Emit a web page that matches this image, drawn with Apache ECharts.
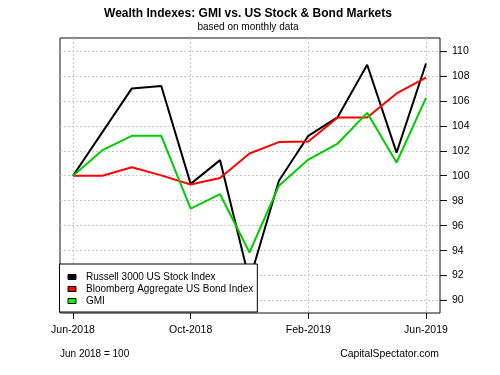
<!DOCTYPE html>
<html>
<head>
<meta charset="utf-8">
<script src="https://cdn.jsdelivr.net/npm/echarts@6/dist/echarts.min.js"></script>
<style>
  html, body { margin: 0; padding: 0; background: #fff; }
  #chart { width: 500px; height: 375px; }
</style>
</head>
<body>
<div id="chart"></div>
<script>
var chart = echarts.init(document.getElementById('chart'));

// monthly data, Jun 2018 = 100
var months = ['Jun-2018', 'Jul-2018', 'Aug-2018', 'Sep-2018', 'Oct-2018', 'Nov-2018', 'Dec-2018',
              'Jan-2019', 'Feb-2019', 'Mar-2019', 'Apr-2019', 'May-2019', 'Jun-2019'];
var russell = [100, 103.5, 107.0, 107.2, 99.35, 101.25, 91.6, 99.6, 103.2, 104.7, 108.9, 101.85, 109.0];
var bond = [100, 100.0, 100.68, 100.03, 99.3, 99.82, 101.78, 102.7, 102.75, 104.67, 104.67, 106.6, 107.87];
var gmi = [100, 102.05, 103.2, 103.2, 97.37, 98.52, 93.85, 99.2, 101.3, 102.58, 105.04, 101.06, 106.24];
var yTicks = [90, 92, 94, 96, 98, 100, 102, 104, 106, 108, 110];
var names = ['Russell 3000 US Stock Index', 'Bloomberg Aggregate US Bond Index', 'GMI'];

var yMin = 89, yMax = 111.04;
var font = 'Liberation Sans, Arial, Helvetica, sans-serif';
var gridLine = { show: true, lineStyle: { color: '#c8c8c8', type: [2, 2], width: 1 } };

function pairs(arr) {
    return arr.map(function (v, i) { return [i, v]; });
}

var option = {
    animation: false,
    textStyle: { fontFamily: font },
    graphic: [
        { type: 'text', x: 248, y: 14, style: { text: 'Wealth Indexes: GMI vs. US Stock & Bond Markets', font: 'bold 12px ' + font, fill: '#000', textAlign: 'center', textVerticalAlign: 'middle' } },
        { type: 'text', x: 248, y: 27, style: { text: 'based on monthly data', font: '10px ' + font, fill: '#000', textAlign: 'center', textVerticalAlign: 'middle' } },
        { type: 'text', x: 60, y: 354, style: { text: 'Jun 2018 = 100', font: '10px ' + font, fill: '#000', textAlign: 'left', textVerticalAlign: 'middle' } },
        { type: 'text', x: 439, y: 354, style: { text: 'CapitalSpectator.com', font: '10.4px ' + font, fill: '#000', textAlign: 'right', textVerticalAlign: 'middle' } }
    ],
    legend: {
        orient: 'vertical',
        left: 59.5,
        top: 264,
        padding: [7, 4, 5, 8],
        itemGap: 0,
        itemWidth: 8,
        itemHeight: 5,
        icon: 'rect',
        backgroundColor: '#fff',
        borderColor: '#000',
        borderWidth: 1,
        itemStyle: { borderColor: '#000', borderWidth: 1 },
        textStyle: { fontSize: 10, lineHeight: 12, color: '#000', padding: [0, 0, 0, 5], fontFamily: font },
        data: [
            { name: names[0], itemStyle: { color: '#000' } },
            { name: names[1], itemStyle: { color: '#ff0000' } },
            { name: names[2], itemStyle: { color: '#00ff00' } }
        ]
    },
    grid: [
        { left: 60, right: 60, top: 38, bottom: 62, show: true, borderColor: '#111', borderWidth: 1, backgroundColor: 'transparent' },
        { left: 73, right: 74, top: 38, bottom: 62, show: false }
    ],
    xAxis: [
        { gridIndex: 0, type: 'value', min: 0, max: 1, show: false },
        {
            gridIndex: 1, type: 'value', min: 0, max: 12, interval: 4,
            axisLine: { show: false, onZero: false },
            axisTick: { show: true, length: 6, lineStyle: { color: '#111' } },
            axisLabel: { margin: 12, fontSize: 10.5, color: '#000', formatter: function (v) { return months[v]; } },
            splitLine: gridLine
        }
    ],
    yAxis: [
        {
            gridIndex: 0, type: 'value', position: 'right', min: yMin, max: yMax,
            axisLine: { show: false, onZero: false },
            axisTick: { show: true, length: 7, customValues: yTicks, lineStyle: { color: '#111' } },
            axisLabel: { margin: 12, fontSize: 10.5, color: '#000', customValues: yTicks },
            splitLine: gridLine
        },
        { gridIndex: 1, type: 'value', min: yMin, max: yMax, show: false, axisLine: { onZero: false }, axisTick: { show: false }, splitLine: { show: false } }
    ],
    series: [
        { name: names[0], type: 'line', xAxisIndex: 1, yAxisIndex: 1, data: pairs(russell), showSymbol: false, color: '#000', lineStyle: { color: '#000', width: 2 } },
        { name: names[1], type: 'line', xAxisIndex: 1, yAxisIndex: 1, data: pairs(bond), showSymbol: false, color: '#ff0000', lineStyle: { color: '#ff0000', width: 2 } },
        { name: names[2], type: 'line', xAxisIndex: 1, yAxisIndex: 1, data: pairs(gmi), showSymbol: false, color: '#00cd00', lineStyle: { color: '#00cd00', width: 2 } }
    ]
};
chart.setOption(option);
</script>
</body>
</html>
